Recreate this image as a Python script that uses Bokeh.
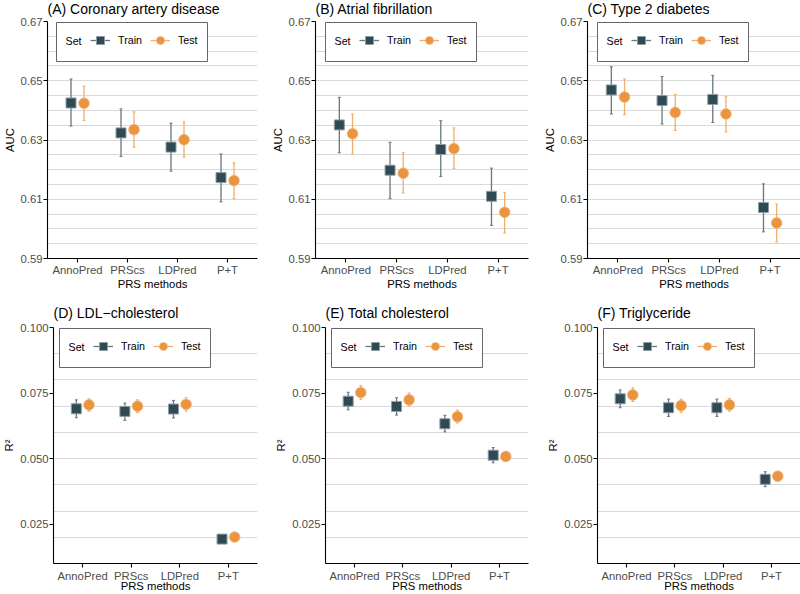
from bokeh.plotting import figure
from bokeh.models import (ColumnDataSource, FactorRange, Range1d, FixedTicker, SingleIntervalTicker,
                          PrintfTickFormatter, Legend, LegendItem, Label, BoxAnnotation, Title)
from bokeh.core.properties import value
from bokeh.transform import dodge
from bokeh.layouts import column, row
from bokeh.embed import file_html
from bokeh.resources import INLINE

# ---------------- data ----------------
methods = ["AnnoPred", "PRScs", "LDPred", "P+T"]

# (A) Coronary artery disease - AUC
cad_train = [0.6425, 0.6324, 0.6276, 0.6173]
cad_train_lo = [0.6347, 0.6244, 0.6195, 0.6091]
cad_train_hi = [0.6506, 0.6405, 0.6357, 0.6253]
cad_test = [0.6424, 0.6335, 0.6301, 0.6163]
cad_test_lo = [0.6366, 0.6276, 0.6242, 0.6102]
cad_test_hi = [0.6482, 0.6395, 0.6361, 0.6223]

# (B) Atrial fibrillation - AUC
af_train = [0.6351, 0.6198, 0.6268, 0.6110]
af_train_lo = [0.6257, 0.6102, 0.6177, 0.6012]
af_train_hi = [0.6444, 0.6292, 0.6365, 0.6205]
af_test = [0.6321, 0.6188, 0.6271, 0.6056]
af_test_lo = [0.6253, 0.6121, 0.6203, 0.5986]
af_test_hi = [0.6388, 0.6257, 0.6341, 0.6123]

# (C) Type 2 diabetes - AUC
t2d_train = [0.6469, 0.6433, 0.6437, 0.6072]
t2d_train_lo = [0.6388, 0.6354, 0.6359, 0.5990]
t2d_train_hi = [0.6547, 0.6514, 0.6518, 0.6152]
t2d_test = [0.6445, 0.6393, 0.6388, 0.6020]
t2d_test_lo = [0.6385, 0.6332, 0.6327, 0.5956]
t2d_test_hi = [0.6506, 0.6454, 0.6446, 0.6084]

# (D) LDL-cholesterol - R2
ldl_train = [0.0690, 0.0680, 0.0689, 0.0193]
ldl_train_lo = [0.0656, 0.0646, 0.0655, 0.0183]
ldl_train_hi = [0.0724, 0.0712, 0.0722, 0.0203]
ldl_test = [0.0705, 0.0700, 0.0707, 0.0201]
ldl_test_lo = [0.0681, 0.0676, 0.0681, 0.0193]
ldl_test_hi = [0.0728, 0.0724, 0.0732, 0.0208]

# (E) Total cholesterol - R2
tc_train = [0.0719, 0.0699, 0.0633, 0.0513]
tc_train_lo = [0.0686, 0.0666, 0.0602, 0.0484]
tc_train_hi = [0.0753, 0.0732, 0.0665, 0.0542]
tc_test = [0.0752, 0.0724, 0.0660, 0.0508]
tc_test_lo = [0.0726, 0.0700, 0.0636, 0.0492]
tc_test_hi = [0.0779, 0.0750, 0.0685, 0.0527]

# (F) Triglyceride - R2
tg_train = [0.0728, 0.0694, 0.0694, 0.0421]
tg_train_lo = [0.0694, 0.0661, 0.0661, 0.0393]
tg_train_hi = [0.0762, 0.0727, 0.0727, 0.0450]
tg_test = [0.0743, 0.0702, 0.0705, 0.0433]
tg_test_lo = [0.0718, 0.0676, 0.0681, 0.0421]
tg_test_hi = [0.0770, 0.0727, 0.0729, 0.0446]

auc_range = (0.59, 0.67)
auc_ticks = [0.59, 0.61, 0.63, 0.65, 0.67]
r2_range = (0.01, 0.10)
r2_ticks = [0.025, 0.050, 0.075, 0.100]

# ---------------- style ----------------
FONT = "Liberation Sans"
TR_FILL, TR_LINE, TR_BAR = "#2F4A52", "#8C9EA4", "#66777C"
TE_FILL, TE_LINE, TE_BAR = "#E9953F", "#F2B679", "#F0AE6C"
GRID = "#D9D9D9"
DODGE = 0.13


def panel(title, tr, tr_lo, tr_hi, te, te_lo, te_hi, yr, yticks, yfmt, grid_step, ylabel,
          width, height, bl, br, bt, bb, box_off, title_space, xtick_standoff, xlab_standoff):
    fh = height - bt - bb
    p = figure(width=width, height=height,
               x_range=FactorRange(factors=methods, range_padding=0.05),
               y_range=Range1d(*yr), output_backend="svg", toolbar_location=None,
               min_border_left=bl, min_border_right=br, min_border_top=bt, min_border_bottom=bb)
    p.outline_line_color = None
    p.background_fill_color = "white"
    p.border_fill_color = "white"

    src = ColumnDataSource(dict(method=methods, tr=tr, tr_lo=tr_lo, tr_hi=tr_hi,
                                te=te, te_lo=te_lo, te_hi=te_hi))
    xt = dodge("method", -DODGE, range=p.x_range)
    xe = dodge("method", DODGE, range=p.x_range)

    seg_tr = p.segment(x0=xt, y0="tr_lo", x1=xt, y1="tr_hi", source=src,
                       line_color=TR_BAR, line_width=1.3)
    p.scatter(x=xt, y="tr_lo", source=src, marker="dash", size=3, line_color=TR_BAR, line_width=1)
    p.scatter(x=xt, y="tr_hi", source=src, marker="dash", size=3, line_color=TR_BAR, line_width=1)
    seg_te = p.segment(x0=xe, y0="te_lo", x1=xe, y1="te_hi", source=src,
                       line_color=TE_BAR, line_width=1.3)
    p.scatter(x=xe, y="te_lo", source=src, marker="dash", size=3, line_color=TE_BAR, line_width=1)
    p.scatter(x=xe, y="te_hi", source=src, marker="dash", size=3, line_color=TE_BAR, line_width=1)

    sq = p.scatter(x=xt, y="tr", source=src, marker="square", size=10,
                   fill_color=TR_FILL, line_color=TR_LINE, line_width=1)
    ci = p.scatter(x=xe, y="te", source=src, marker="circle", size=10.7,
                   fill_color=TE_FILL, line_color=TE_LINE, line_width=0.8)

    # axes
    p.yaxis.ticker = FixedTicker(ticks=yticks)
    p.yaxis.formatter = PrintfTickFormatter(format=yfmt)
    p.ygrid.ticker = SingleIntervalTicker(interval=grid_step)
    p.ygrid.grid_line_color = GRID
    p.ygrid.grid_line_width = 1
    p.xgrid.grid_line_color = None
    for ax in (p.xaxis[0], p.yaxis[0]):
        ax.axis_line_color = "black"
        ax.axis_line_width = 1.1
        ax.major_tick_line_color = "black"
        ax.major_tick_line_width = 1.1
        ax.major_tick_in = 0
        ax.major_tick_out = 4
        ax.minor_tick_line_color = None
        ax.major_label_text_font = FONT
        ax.major_label_text_font_size = "11.3px"
        ax.major_label_text_color = "#4D4D4D"
        ax.axis_label_text_font = FONT
        ax.axis_label_text_font_size = "11.3px"
        ax.axis_label_text_font_style = "normal"
        ax.axis_label_text_color = "black"
    p.xaxis.axis_label = "PRS methods"
    p.xaxis.major_label_standoff = xtick_standoff
    p.xaxis.axis_label_standoff = xlab_standoff
    p.yaxis.axis_label = ylabel
    p.yaxis.major_label_standoff = 1
    p.yaxis.axis_label_standoff = 2

    # panel title, left-aligned with the plotting area (spacer title keeps the gap)
    p.add_layout(Title(text=" ", text_font_size="1px", standoff=title_space), "above")
    p.add_layout(Title(text=title, align="left", vertical_align="top", offset=0, standoff=0,
                       text_font=FONT, text_font_size="14px", text_font_style="normal",
                       text_color="black"), "above")

    # legend box with "Set" caption
    box = BoxAnnotation(left=box_off, right=box_off + 151, top=fh - 1, bottom=fh - 40,
                        left_units="screen", right_units="screen",
                        top_units="screen", bottom_units="screen",
                        fill_color="white", fill_alpha=1.0,
                        line_color="#666666", line_alpha=1.0, line_width=1)
    p.add_layout(box)
    p.add_layout(Label(x=box_off + 9, y=fh - 19.3, x_units="screen", y_units="screen",
                       text="Set", text_font=FONT, text_font_size="10.7px",
                       text_baseline="middle", text_color="black"))
    legend = Legend(items=[LegendItem(label=value("Train"), renderers=[seg_tr, sq]),
                           LegendItem(label=value("Test"), renderers=[seg_te, ci])],
                    location=(box_off + 34, fh - 19.3 - 10), orientation="horizontal",
                    padding=0, margin=0, spacing=8, glyph_width=20, glyph_height=20,
                    label_standoff=8, border_line_color=None, background_fill_alpha=0,
                    label_text_font=FONT, label_text_font_size="10.7px",
                    label_text_color="black")
    p.add_layout(legend)
    return p


pA = panel("(A) Coronary artery disease", cad_train, cad_train_lo, cad_train_hi,
           cad_test, cad_test_lo, cad_test_hi, auc_range, auc_ticks, "%.2f", 0.005, "AUC",
           267, 294, 44, 10, 21, 36, 9, 0, 1, -1)
pB = panel("(B) Atrial fibrillation", af_train, af_train_lo, af_train_hi,
           af_test, af_test_lo, af_test_hi, auc_range, auc_ticks, "%.2f", 0.005, "AUC",
           267, 294, 48, 6, 21, 36, 10, 0, 1, -1)
pC = panel("(C) Type 2 diabetes", t2d_train, t2d_train_lo, t2d_train_hi,
           t2d_test, t2d_test_lo, t2d_test_hi, auc_range, auc_ticks, "%.2f", 0.005, "AUC",
           266, 294, 53, 0, 21, 36, 10, 0, 1, -1)
pD = panel("(D) LDL\u2212cholesterol", ldl_train, ldl_train_lo, ldl_train_hi,
           ldl_test, ldl_test_lo, ldl_test_hi, r2_range, r2_ticks, "%.3f", 0.01, "R\u00b2",
           267, 300, 53, 10, 33, 31, 6, 2, 2, -5)
pE = panel("(E) Total cholesterol", tc_train, tc_train_lo, tc_train_hi,
           tc_test, tc_test_lo, tc_test_hi, r2_range, r2_ticks, "%.3f", 0.01, "R\u00b2",
           267, 300, 58, 6, 33, 31, 6, 2, 2, -5)
pF = panel("(F) Triglyceride", tg_train, tg_train_lo, tg_train_hi,
           tg_test, tg_test_lo, tg_test_hi, r2_range, r2_ticks, "%.3f", 0.01, "R\u00b2",
           266, 300, 63, 0, 33, 31, 6, 2, 2, -5)

layout = column(row(pA, pB, pC), row(pD, pE, pF))

open("out.html", "w").write(file_html(layout, INLINE))
